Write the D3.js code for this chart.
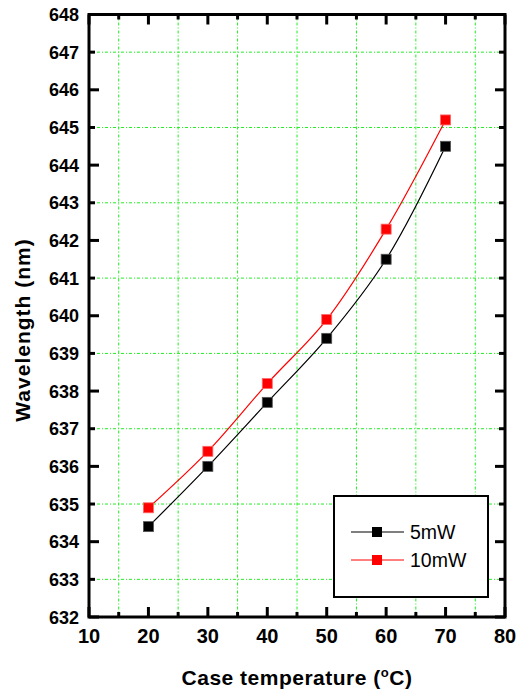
<!DOCTYPE html>
<html>
<head>
<meta charset="utf-8">
<script src="https://cdn.jsdelivr.net/npm/d3@7"></script>
<style>
  body { margin: 0; background: #fff; }
  svg { display: block; font-family: Arial, "Liberation Sans", sans-serif; }
</style>
</head>
<body>
<svg width="519" height="694"></svg>
<script>
// Data
const temps = [20, 30, 40, 50, 60, 70];
const wl5mW = [634.4, 636.0, 637.7, 639.4, 641.5, 644.5];
const wl10mW = [634.9, 636.4, 638.2, 639.9, 642.3, 645.2];
const seriesNames = ["5mW", "10mW"];
const seriesColors = ["#000000", "#ff0000"];

const svg = d3.select("svg");
const m = { left: 89, right: 505, top: 14.5, bottom: 617 };

const x = d3.scaleLinear().domain([10, 80]).range([m.left, m.right]);
const y = d3.scaleLinear().domain([632, 648]).range([m.bottom, m.top]);

// grid at minor ticks
const gridX = d3.range(15, 80, 10);
const gridY = d3.range(633, 648, 2);
const grid = svg.append("g")
    .attr("stroke", "#22ee22")
    .attr("stroke-width", 1)
    .attr("stroke-dasharray", "3,2,1,2");
grid.selectAll(".gx").data(gridX).join("line")
    .attr("x1", d => x(d)).attr("x2", d => x(d))
    .attr("y1", m.top).attr("y2", m.bottom);
grid.selectAll(".gy").data(gridY).join("line")
    .attr("y1", d => y(d)).attr("y2", d => y(d))
    .attr("x1", m.left).attr("x2", m.right);

// series
const series = [wl5mW, wl10mW].map((vals, i) => ({
    name: seriesNames[i],
    color: seriesColors[i],
    points: temps.map((t, j) => ({ t, v: vals[j] }))
}));

const line = d3.line()
    .x(d => x(d.t))
    .y(d => y(d.v))
    .curve(d3.curveCatmullRom);

series.forEach(s => {
    svg.append("path")
        .datum(s.points)
        .attr("fill", "none")
        .attr("stroke", s.color)
        .attr("stroke-width", 1.2)
        .attr("d", line);
    svg.append("g").selectAll("rect").data(s.points).join("rect")
        .attr("x", d => x(d.t) - 5)
        .attr("y", d => y(d.v) - 5)
        .attr("width", 10)
        .attr("height", 10)
        .attr("fill", s.color)
        .attr("stroke", s.color === "#000000" ? "#555" : "#ff6666")
        .attr("stroke-width", 0.8);
});

// axes (ticks pointing inward on all four sides)
const xMajor = d3.range(10, 81, 10);
const xMinor = d3.range(15, 80, 10);
const yMajor = d3.range(632, 649, 2);
const yMinor = d3.range(633, 648, 2);
const yLabels = d3.range(632, 649, 1);

const axes = svg.append("g").attr("stroke", "#000").attr("stroke-width", 3);
axes.append("rect")
    .attr("x", m.left).attr("y", m.top)
    .attr("width", m.right - m.left).attr("height", m.bottom - m.top)
    .attr("fill", "none");

function xTicks(vals, len) {
    [m.bottom, m.top].forEach((yy, k) => {
        axes.append("g").selectAll("line").data(vals).join("line")
            .attr("x1", d => x(d)).attr("x2", d => x(d))
            .attr("y1", yy).attr("y2", k === 0 ? yy - len : yy + len);
    });
}
function yTicks(vals, len) {
    [m.left, m.right].forEach((xx, k) => {
        axes.append("g").selectAll("line").data(vals).join("line")
            .attr("y1", d => y(d)).attr("y2", d => y(d))
            .attr("x1", xx).attr("x2", k === 0 ? xx + len : xx - len);
    });
}
xTicks(xMajor, 10);
xTicks(xMinor, 5);
yTicks(yMajor, 10);
yTicks(yMinor, 6);

// tick labels
svg.append("g").selectAll("text").data(xMajor).join("text")
    .attr("x", d => x(d)).attr("y", 643)
    .attr("text-anchor", "middle")
    .attr("font-size", 20).attr("font-weight", "bold")
    .text(d => d);
svg.append("g").selectAll("text").data(yLabels).join("text")
    .attr("x", m.left - 10).attr("y", d => y(d) + 6.5)
    .attr("text-anchor", "end")
    .attr("font-size", 18).attr("font-weight", "bold")
    .text(d => d);

// axis titles
const xt = svg.append("text")
    .attr("x", (m.left + m.right) / 2).attr("y", 685)
    .attr("text-anchor", "middle")
    .attr("font-size", 21).attr("font-weight", "bold")
    .attr("letter-spacing", 0.5);
xt.append("tspan").text("Case temperature (");
xt.append("tspan").attr("dy", -8).attr("font-size", 13).text("o");
xt.append("tspan").attr("dy", 8).text("C)");

svg.append("text")
    .attr("transform", `translate(30,${330}) rotate(-90)`)
    .attr("text-anchor", "middle")
    .attr("font-size", 21).attr("font-weight", "bold")
    .attr("letter-spacing", 1)
    .text("Wavelength (nm)");

// legend
const lg = svg.append("g");
lg.append("rect")
    .attr("x", 334).attr("y", 496).attr("width", 154).attr("height", 101)
    .attr("fill", "#fff").attr("stroke", "#000").attr("stroke-width", 2);
series.forEach((s, i) => {
    const yy = 532 + i * 28;
    lg.append("line")
        .attr("x1", 351).attr("x2", 404).attr("y1", yy).attr("y2", yy)
        .attr("stroke", s.color).attr("stroke-width", 1);
    lg.append("rect")
        .attr("x", 372).attr("y", yy - 5).attr("width", 10).attr("height", 10)
        .attr("fill", s.color);
    lg.append("text")
        .attr("x", 410).attr("y", yy + 7)
        .attr("font-size", 19.5)
        .text(s.name);
});
</script>
</body>
</html>
